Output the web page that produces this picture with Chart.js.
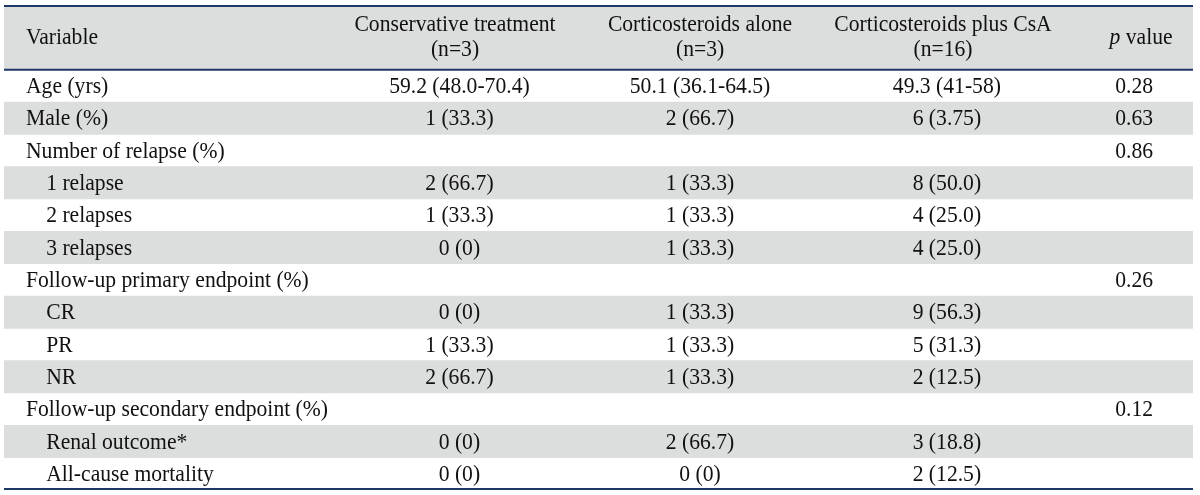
<!DOCTYPE html>
<html>
<head>
<meta charset="utf-8">
<script src="https://cdn.jsdelivr.net/npm/chart.js@4/dist/chart.umd.min.js"></script>
<style>
  html, body { margin: 0; padding: 0; background: #fff; }
  #wrap { width: 1200px; height: 495px; }
</style>
</head>
<body>
<div id="wrap"><canvas id="tableChart"></canvas></div>
<script>
// Table content
const headers = ['Variable', 'Conservative treatment', 'Corticosteroids alone', 'Corticosteroids plus CsA', 'value'];
const subHeaders = ['', '(n=3)', '(n=3)', '(n=16)', ''];

const rowLabels = [
    'Age (yrs)', 'Male (%)', 'Number of relapse (%)',
    '1 relapse', '2 relapses', '3 relapses',
    'Follow-up primary endpoint (%)', 'CR', 'PR', 'NR',
    'Follow-up secondary endpoint (%)', 'Renal outcome*', 'All-cause mortality'
];
const indented = [0, 0, 0, 1, 1, 1, 0, 1, 1, 1, 0, 1, 1];

const conservative = ['59.2 (48.0-70.4)', '1 (33.3)', '', '2 (66.7)', '1 (33.3)', '0 (0)', '', '0 (0)', '1 (33.3)', '2 (66.7)', '', '0 (0)', '0 (0)'];
const steroidsAlone = ['50.1 (36.1-64.5)', '2 (66.7)', '', '1 (33.3)', '1 (33.3)', '1 (33.3)', '', '1 (33.3)', '1 (33.3)', '1 (33.3)', '', '2 (66.7)', '0 (0)'];
const steroidsCsA = ['49.3 (41-58)', '6 (3.75)', '', '8 (50.0)', '4 (25.0)', '4 (25.0)', '', '9 (56.3)', '5 (31.3)', '2 (12.5)', '', '3 (18.8)', '2 (12.5)'];
const pValues = ['0.28', '0.63', '0.86', '', '', '', '0.26', '', '', '', '0.12', '', ''];

// layout (fractions of table width)
const GREY = '#dcdddd';
const NAVY = '#1d3866';
const TEXT = '#111111';
const FONT = "23px 'Liberation Serif', 'Times New Roman', serif";
const FONT_IT = "italic 23px 'Liberation Serif', 'Times New Roman', serif";
const SQUEEZE = 0.94; // the type in the source is a bit condensed
const labelX = 0.0185, indentX = 0.0355;
const headerX = [0.3793, 0.5854, 0.7897, 0.9563];
const valueX = [0.3830, 0.5854, 0.7930, 0.9505];

// header takes two category slots, then one per data row
const yLabels = ['header-1', 'header-2', ...rowLabels];
const rowColors = yLabels.map((l, i) => (i < 2 || (i - 2) % 2 === 1) ? GREY : 'rgba(255,255,255,0)');

function drawText(ctx, text, x, y, align, font) {
    ctx.save();
    ctx.font = font || FONT;
    ctx.textAlign = align;
    ctx.translate(x, y);
    ctx.scale(SQUEEZE, 1);
    ctx.fillText(text, 0, 0);
    ctx.restore();
}

const tablePlugin = {
    id: 'tableText',
    afterDatasetsDraw(chart) {
        const ctx = chart.ctx;
        const xs = chart.scales.x;
        const ys = chart.scales.y;
        const area = chart.chartArea;
        const slot = ys.getPixelForValue(1) - ys.getPixelForValue(0);

        ctx.save();
        // rules
        ctx.strokeStyle = NAVY;
        ctx.lineWidth = 2;
        const ruleY = [area.top + 1, ys.getPixelForValue(1) + slot / 2, area.bottom - 1];
        ruleY.forEach(y => {
            ctx.beginPath();
            ctx.moveTo(area.left, y);
            ctx.lineTo(area.right, y);
            ctx.stroke();
        });

        ctx.fillStyle = TEXT;
        ctx.textBaseline = 'middle';

        // header
        const hMid = (ys.getPixelForValue(0) + ys.getPixelForValue(1)) / 2;
        drawText(ctx, headers[0], xs.getPixelForValue(labelX), hMid + 1, 'left');
        for (let c = 1; c <= 3; c++) {
            const x = xs.getPixelForValue(headerX[c - 1]);
            drawText(ctx, headers[c], x, hMid - 12, 'center');
            drawText(ctx, subHeaders[c], x, hMid + 13, 'center');
        }
        // "p value" with italic p
        ctx.font = FONT_IT;
        const wP = ctx.measureText('p ').width * SQUEEZE;
        ctx.font = FONT;
        const wV = ctx.measureText(headers[4]).width * SQUEEZE;
        const px = xs.getPixelForValue(headerX[3]) - (wP + wV) / 2;
        drawText(ctx, 'p', px, hMid + 1, 'left', FONT_IT);
        drawText(ctx, headers[4], px + wP, hMid + 1, 'left');

        // body rows
        const cols = [conservative, steroidsAlone, steroidsCsA, pValues];
        rowLabels.forEach((label, i) => {
            const y = ys.getPixelForValue(i + 2) + 1;
            drawText(ctx, label, xs.getPixelForValue(indented[i] ? indentX : labelX), y, 'left');
            cols.forEach((col, c) => {
                if (col[i]) drawText(ctx, col[i], xs.getPixelForValue(valueX[c]), y, 'center');
            });
        });
        ctx.restore();
    }
};

new Chart(document.getElementById('tableChart'), {
    type: 'bar',
    data: {
        labels: yLabels,
        datasets: [{
            data: yLabels.map(() => [0, 1]),
            backgroundColor: rowColors,
            borderWidth: 0,
            barPercentage: 1,
            categoryPercentage: 1
        }]
    },
    options: {
        indexAxis: 'y',
        responsive: true,
        maintainAspectRatio: false,
        animation: false,
        layout: { padding: { left: 4, right: 7, top: 5, bottom: 5 } },
        scales: {
            x: { display: false, min: 0, max: 1 },
            y: { display: false }
        },
        plugins: {
            legend: { display: false },
            tooltip: { enabled: false }
        }
    },
    plugins: [tablePlugin]
});
</script>
</body>
</html>
